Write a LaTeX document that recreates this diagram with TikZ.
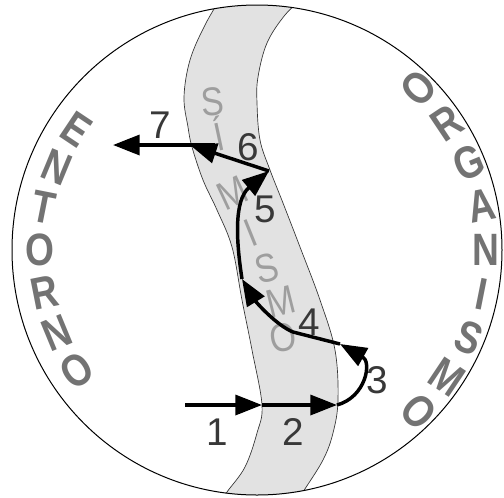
\documentclass[tikz,border=0pt]{standalone}
\usepackage{fontspec}
\setmainfont{Liberation Sans}
\usetikzlibrary{arrows.meta}
\definecolor{bandgray}{HTML}{E2E2E2}
\definecolor{wordgray}{HTML}{737373}
\definecolor{lightword}{HTML}{9E9E9E}
\definecolor{digitgray}{HTML}{383838}
\begin{document}
\begin{tikzpicture}[x=0.75pt,y=-0.75pt,
  flow/.style={line width=2.6pt,-{Triangle[length=20pt,width=15pt]}},
  bigletter/.style={rotate=#1,xscale=0.82,inner sep=0pt,text=wordgray,
    font=\fontsize{34}{34}\selectfont\bfseries},
  bandletter/.style={rotate=#1,xscale=0.85,inner sep=0pt,text=lightword,
    font=\fontsize{30}{30}\selectfont},
  digit/.style={inner sep=0pt,text=digitgray,font=\fontsize{29}{29}\selectfont},
  edge/.style={line width=0.5pt,black!80}]
\useasboundingbox (0,0) rectangle (504,497);
% band
\begin{scope}
  \clip (257,250) circle[radius=245];
  \fill[bandgray] plot[smooth,tension=0.6] coordinates {(222,-4) (205,25) (190,60) (184,97) (188,127) (192,147) (203,180) (217,210) (232,247) (242,300) (252,350) (262,405) (257,433) (245,467) (227,492) (220,504)}
    -- plot[smooth,tension=0.6] coordinates {(296,504) (303,492) (323,460) (333,433) (338,400) (335,350) (320,300) (300,247) (283,203) (270,170) (260,140) (257,103) (258,77) (267,43) (285,15) (305,-4)} -- cycle;
  \draw[edge] plot[smooth,tension=0.6] coordinates {(222,-4) (205,25) (190,60) (184,97) (188,127) (192,147) (203,180) (217,210) (232,247) (242,300) (252,350) (262,405) (257,433) (245,467) (227,492) (220,504)};
  \draw[edge] plot[smooth,tension=0.6] coordinates {(296,504) (303,492) (323,460) (333,433) (338,400) (335,350) (320,300) (300,247) (283,203) (270,170) (260,140) (257,103) (258,77) (267,43) (285,15) (305,-4)};
\end{scope}
\draw[line width=0.75pt] (257,250) circle[radius=245];
% ENTORNO
\foreach \l [count=\i] in {E,N,T,O,R,N,O}{
  \pgfmathsetmacro\a{135+11.25*\i}
  \pgfmathsetmacro\r{\a-180}
  \node[bigletter=\r] (ent\i) at ({257+217*cos(\a)},{250-217*sin(\a)}) {\l};
}
% ORGANISMO
\foreach \l [count=\i] in {O,R,G,A,N,I,S,M,O}{
  \pgfmathsetmacro\a{56.25-11.25*\i}
  \node[bigletter=\a] (org\i) at ({257+229*cos(\a)},{250-229*sin(\a)}) {\l};
}
% SIMISMO
\node[bandletter=5]  (s1) at (213,102) {S};
\node[bandletter=12] (s2) at (219,134) {Í};
\node[bandletter=25] (s3) at (233,193) {M};
\node[bandletter=22] (s4) at (251,233) {I};
\node[bandletter=15] (s5) at (267,268) {S};
\node[bandletter=14] (s6) at (281,302) {M};
\node[bandletter=10] (s7) at (283,338) {O};
% points
\coordinate (p0) at (185,405);
\coordinate (p1) at (262,405);
\coordinate (p2) at (337,405);
\coordinate (p3) at (340,344);
\coordinate (p3b) at (293,332);
\coordinate (p4) at (242,279);
\coordinate (p5) at (269,171);
\coordinate (p6) at (190,145);
\coordinate (p7s) at (215,145);
\coordinate (p7) at (113,145);
% arrows
\draw[flow] (p0) -- (p1);
\draw[flow] (p1) -- (p2);
\draw[flow] (p2) .. controls (366,397) and (372,362) .. (p3);
\draw[flow] (p3) -- (p3b) .. controls (276,325) and (256,302) .. (p4);
\draw[flow] (p4) .. controls (236,240) and (234,200) .. (p5);
\draw[flow] (p5) -- (p6);
\draw[flow] (p7s) -- (p7);
% digits
\node[digit] (n1) at (217,432) {1};
\node[digit] (n2) at (293,432) {2};
\node[digit] (n3) at (377,380) {3};
\node[digit] (n4) at (309,322) {4};
\node[digit] (n5) at (265,209) {5};
\node[digit] (n6) at (248,147) {6};
\node[digit] (n7) at (160,125) {7};
\end{tikzpicture}
\end{document}
